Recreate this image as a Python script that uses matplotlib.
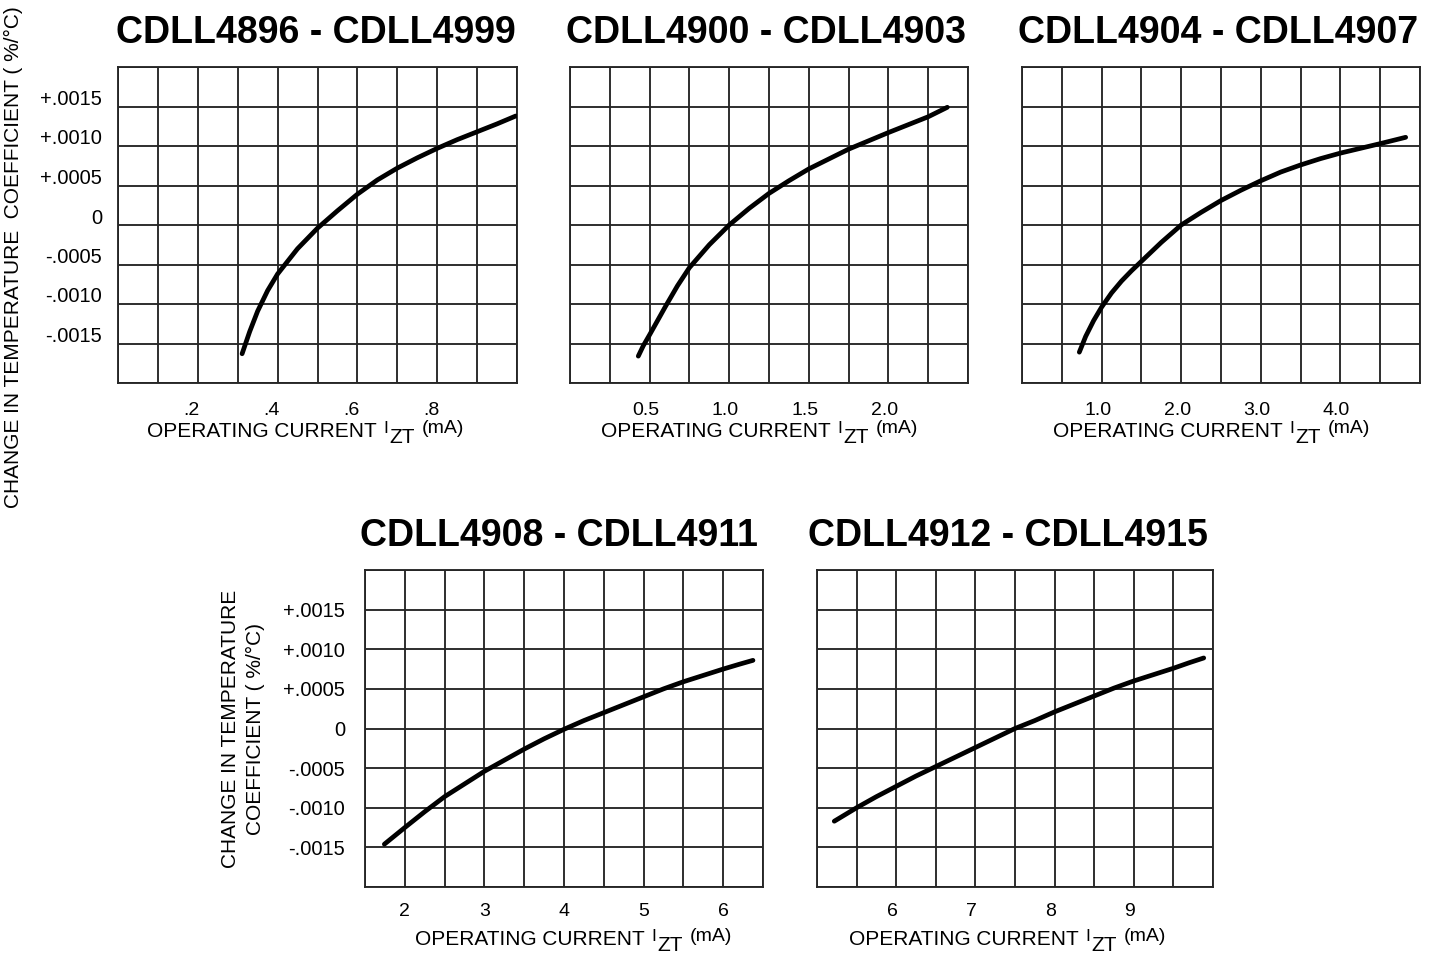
import matplotlib
matplotlib.use('Agg')
import matplotlib.pyplot as plt
from matplotlib.transforms import ScaledTranslation

plt.rcParams['font.family'] = ['Liberation Sans', 'DejaVu Sans']

W, H, DPI = 1434, 965, 100

# ---------------- data ----------------
titles = ["CDLL4896 - CDLL4999", "CDLL4900 - CDLL4903", "CDLL4904 - CDLL4907",
          "CDLL4908 - CDLL4911", "CDLL4912 - CDLL4915"]

p1_x = [0.311, 0.33, 0.35, 0.375, 0.40, 0.45, 0.50, 0.55, 0.60, 0.65, 0.70,
        0.75, 0.80, 0.85, 0.90, 0.95, 0.997]
p1_y = [-0.00163, -0.00135, -0.00109, -0.00083, -0.00062, -0.00030, -0.00004,
        0.00018, 0.00039, 0.00057, 0.00072, 0.00085, 0.00097, 0.00108, 0.00118,
        0.00128, 0.00138]

p2_x = [0.429, 0.46, 0.50, 0.55, 0.60, 0.675, 0.75, 0.875, 1.00, 1.125, 1.25,
        1.375, 1.50, 1.75, 2.00, 2.25, 2.37]
p2_y = [-0.00166, -0.00153, -0.00139, -0.00121, -0.00103, -0.00077, -0.00054,
        -0.00025, 0.00000, 0.00021, 0.00040, 0.00056, 0.00071, 0.00096, 0.00117,
        0.00137, 0.00149]

p3_x = [0.72, 0.80, 0.90, 1.00, 1.125, 1.25, 1.375, 1.50, 1.75, 2.00, 2.25, 2.50,
        2.75, 3.00, 3.25, 3.50, 3.75, 4.00, 4.25, 4.50, 4.82]
p3_y = [-0.00161, -0.00141, -0.00121, -0.00104, -0.00086, -0.00071, -0.00058,
        -0.00046, -0.00022, 0.00000, 0.00016, 0.00031, 0.00044, 0.00056, 0.00067,
        0.00076, 0.00084, 0.00091, 0.00097, 0.00103, 0.00111]

p4_x = [1.743, 2.00, 2.25, 2.50, 2.75, 3.00, 3.25, 3.50, 3.75, 4.00, 4.25, 4.50,
        4.75, 5.00, 5.25, 5.50, 5.75, 6.00, 6.20, 6.374]
p4_y = [-0.00146, -0.00125, -0.00105, -0.00086, -0.00070, -0.00054, -0.00040,
        -0.00026, -0.00013, -0.00001, 0.00010, 0.00020, 0.00030, 0.00040, 0.00050,
        0.00059, 0.00067, 0.00075, 0.00081, 0.00086]

p5_x = [5.218, 5.50, 5.75, 6.00, 6.25, 6.50, 6.75, 7.00, 7.25, 7.50, 7.75, 8.00,
        8.25, 8.50, 8.75, 9.00, 9.25, 9.50, 9.70, 9.883]
p5_y = [-0.00117, -0.00100, -0.00086, -0.00073, -0.00060, -0.00048, -0.00036,
        -0.00024, -0.00012, 0.00000, 0.00010, 0.00021, 0.00031, 0.00041, 0.00051,
        0.00060, 0.00068, 0.00076, 0.00083, 0.00089]

xs = [p1_x, p2_x, p3_x, p4_x, p5_x]
ys = [p1_y, p2_y, p3_y, p4_y, p5_y]

x_limits = [(0.0, 1.0), (0.0, 2.5), (0.0, 5.0), (1.5, 6.5), (5.0, 10.0)]
x_grid_step = [0.1, 0.25, 0.5, 0.5, 0.5]
x_tick_vals = [[0.2, 0.4, 0.6, 0.8], [0.5, 1.0, 1.5, 2.0], [1.0, 2.0, 3.0, 4.0],
               [2, 3, 4, 5, 6], [6, 7, 8, 9]]
x_tick_labels = [['.2', '.4', '.6', '.8'], ['0.5', '1.0', '1.5', '2.0'],
                 ['1.0', '2.0', '3.0', '4.0'], ['2', '3', '4', '5', '6'],
                 ['6', '7', '8', '9']]

y_limits = (-0.0020, 0.0020)
y_grid_step = 0.0005
y_tick_vals = [0.0015, 0.0010, 0.0005, 0.0, -0.0005, -0.0010, -0.0015]
y_tick_labels = ['+.0015', '+.0010', '+.0005', '0', '-.0005', '-.0010', '-.0015']

xlabel_main = "OPERATING CURRENT"
xlabel_sym = "I"
xlabel_sub = "ZT"
xlabel_unit = "(mA)"
ylabel_one = "CHANGE IN TEMPERATURE  COEFFICIENT ( %/°C)"
ylabel_two = "CHANGE IN TEMPERATURE\nCOEFFICIENT ( %/°C)"

# ---------------- layout (pixels) ----------------
axes_px = [(118, 67, 517, 383), (570, 67, 968, 383), (1022, 67, 1420, 383),
           (365, 570, 763, 887), (817, 570, 1213, 887)]
title_px = [(315.5, 43), (766.5, 43), (1218.5, 43), (559, 546), (1008, 546)]
xlabel_px = [(147, 437), (601, 437), (1053, 437), (415, 945), (849, 945)]
xtick_pad = [14.0, 14.0, 14.0, 11.5, 11.5]
xtick_shift_px = [-6, -4, -4, 0, -4]
show_y = [True, False, False, True, False]
ytick_pad = [11.5, 0, 0, 14.4, 0]
ytick_shift_px = [9, 0, 0, 0, 0]

GRID_C = '#262626'

fig = plt.figure(figsize=(W / DPI, H / DPI), dpi=DPI)
fig.patch.set_facecolor('white')


def frange(a, b, step):
    n = int(round((b - a) / step))
    return [a + i * step for i in range(n + 1)]


for i in range(5):
    l, t, r, b = axes_px[i]
    ax = fig.add_axes([l / W, 1 - b / H, (r - l) / W, (b - t) / H])
    ax.plot(xs[i], ys[i], color='black', lw=3.4, solid_capstyle='round',
            solid_joinstyle='round', zorder=5)
    ax.set_xlim(*x_limits[i])
    ax.set_ylim(*y_limits)

    ax.set_xticks(frange(x_limits[i][0], x_limits[i][1], x_grid_step[i]), minor=True)
    ax.set_yticks(frange(y_limits[0], y_limits[1], y_grid_step), minor=True)
    ax.set_xticks(x_tick_vals[i])
    ax.set_xticklabels(x_tick_labels[i])
    ax.set_yticks(y_tick_vals)
    if show_y[i]:
        ax.set_yticklabels(y_tick_labels)
    else:
        ax.set_yticklabels([])
    ax.grid(True, which='both', color=GRID_C, lw=1.35)
    ax.set_axisbelow(True)
    ax.tick_params(which='both', length=0)
    ax.tick_params(axis='x', labelsize=14, pad=xtick_pad[i])
    ax.tick_params(axis='y', labelsize=14.5, pad=ytick_pad[i] if show_y[i] else 0)
    for sp in ax.spines.values():
        sp.set_color(GRID_C)
        sp.set_linewidth(1.35)

    if xtick_shift_px[i]:
        off = ScaledTranslation(xtick_shift_px[i] / DPI, 0, fig.dpi_scale_trans)
        for lab in ax.get_xticklabels():
            lab.set_transform(lab.get_transform() + off)
    if ytick_shift_px[i]:
        off = ScaledTranslation(0, ytick_shift_px[i] / DPI, fig.dpi_scale_trans)
        for lab in ax.get_yticklabels():
            lab.set_transform(lab.get_transform() + off)

    # title
    tx, ty = title_px[i]
    fig.text(tx / W, 1 - ty / H, titles[i], ha='center', va='baseline',
             fontsize=27, fontweight='bold')

    # x label built from pieces
    lx, ly = xlabel_px[i]
    t0 = fig.text(lx / W, 1 - ly / H, xlabel_main, ha='left', va='baseline', fontsize=15)
    t1 = ax.annotate(xlabel_sym, xy=(1, 0), xycoords=t0, xytext=(5.0, 3.4),
                     textcoords='offset points', ha='left', va='bottom', fontsize=12.5,
                     annotation_clip=False)
    t2 = ax.annotate(xlabel_sub, xy=(1, 0), xycoords=(t1, t0), xytext=(0.8, -4.3),
                     textcoords='offset points', ha='left', va='bottom', fontsize=15,
                     annotation_clip=False)
    t3 = ax.annotate(xlabel_unit, xy=(1, 0), xycoords=(t2, t0), xytext=(5.0, 2.6),
                     textcoords='offset points', ha='left', va='bottom', fontsize=14,
                     annotation_clip=False)

fig.text(13.5 / W, 1 - 257.5 / H, ylabel_one, rotation=90, ha='center', va='center',
         fontsize=15)
fig.text(243 / W, 1 - 729 / H, ylabel_two, rotation=90, ha='center', va='center',
         fontsize=15, linespacing=1.42, multialignment='center')

fig.savefig('out.png', dpi=DPI)
